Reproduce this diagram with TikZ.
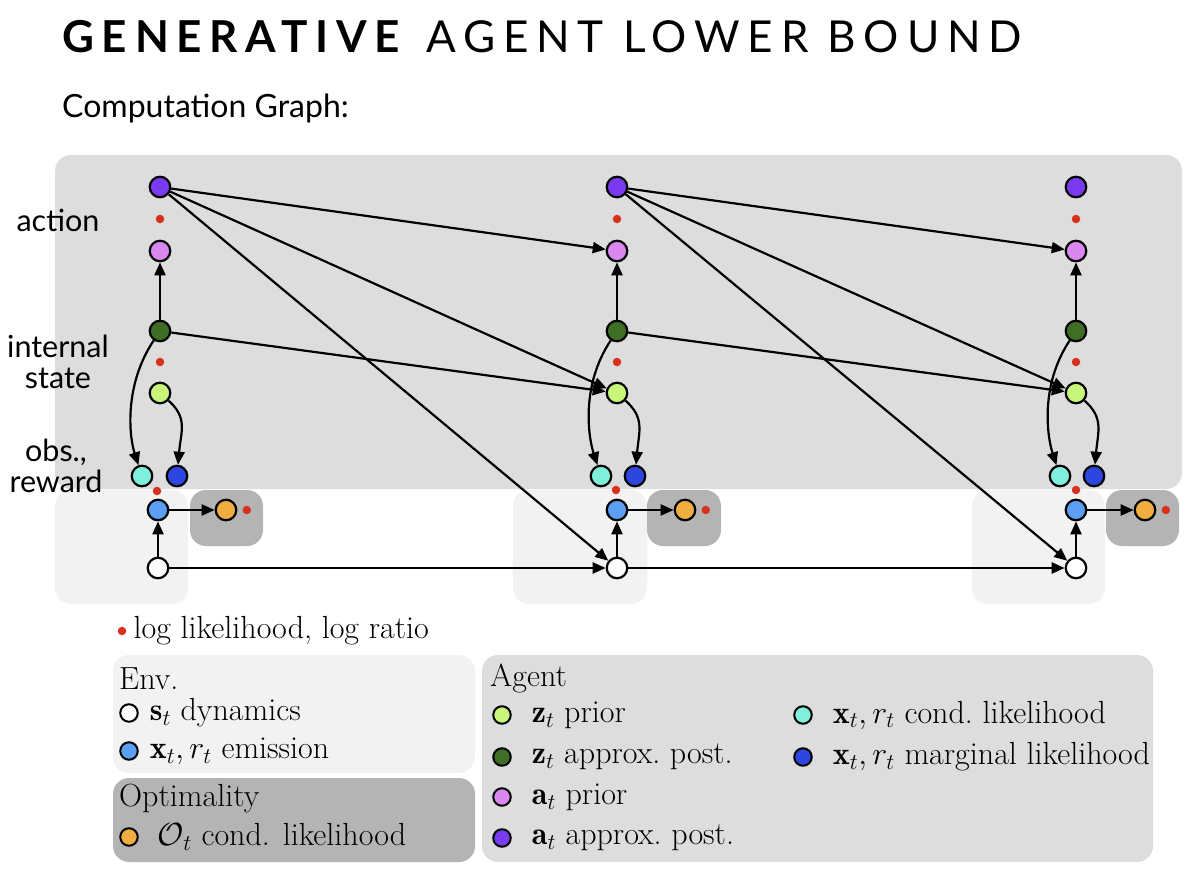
\RequirePackage{fix-cm}
\documentclass[tikz,border=0pt]{standalone}
\usepackage{amsmath,amssymb}
\usepackage{fontspec}
\newfontfamily\avenir{Lato}
\usepackage{xcolor}
\usepackage{tikz}
\usetikzlibrary{positioning,arrows.meta}

\definecolor{aPost}{RGB}{122,58,240}
\definecolor{aPrior}{RGB}{218,136,240}
\definecolor{zPost}{RGB}{63,110,37}
\definecolor{zPrior}{RGB}{200,246,122}
\definecolor{xCond}{RGB}{128,240,220}
\definecolor{xMarg}{RGB}{45,70,224}
\definecolor{emit}{RGB}{91,158,242}
\definecolor{optim}{RGB}{240,173,64}
\definecolor{llRed}{RGB}{216,48,30}
\definecolor{agentGray}{RGB}{221,221,221}
\definecolor{envGray}{RGB}{242,242,242}
\definecolor{optGray}{RGB}{180,180,180}

\begin{document}
\begin{tikzpicture}[
x=1pt, y=-1pt,
node distance=20pt,
var/.style={circle, draw=black, line width=2.2pt, minimum size=20.5pt, inner sep=0pt},
key/.style={var, line width=2pt, minimum size=17.5pt},
ll/.style={circle, fill=llRed, minimum size=8.5pt, inner sep=0pt},
arrow/.style={-{Triangle[length=13pt, width=11pt]}, line width=2.2pt},
panel/.style={rounded corners=16pt},
row/.style={font=\avenir\fontsize{30.5}{31}\selectfont, align=center, inner sep=0pt},
legend/.style={font=\fontsize{32}{34}\selectfont, inner sep=0pt}
]
\useasboundingbox (0,0) rectangle (1200,868);

% backgrounds
\fill[agentGray, panel] (55,155) rectangle (1182,489);
\fill[envGray, panel] (55,490) rectangle (188,604);
\fill[envGray, panel] (513,490) rectangle (647,604);
\fill[envGray, panel] (972,490) rectangle (1105,604);
\fill[optGray, panel] (190,490) rectangle (263,546);
\fill[optGray, panel] (647,490) rectangle (721,546);
\fill[optGray, panel] (1106,490) rectangle (1179,546);

% titles
\node[anchor=base west, inner sep=0pt, font=\avenir\fontsize{44}{48}\selectfont] (title) at (62,52) {\addfontfeature{LetterSpace=17.7}\textbf{GENERATIVE} AGENT LOWER BOUND};
\node[anchor=base west, inner sep=0pt, font=\avenir\fontsize{32}{34}\selectfont] (graph) at (62,117) {Computation Graph:};
\node[row] (action) at (58,220) {action};
\node[row] (internal) at (58,362) {internal\\state};
\node[row] (obs) at (56,466) {obs.,\\reward};

% column 1
\node[var, fill=aPost] (aq1) at (160,187) {};
\node[ll] (la1) at (160,219) {};
\node[var, fill=aPrior] (ap1) at (160,251) {};
\node[var, fill=zPost] (zq1) at (160,331) {};
\node[ll] (lz1) at (160,362) {};
\node[var, fill=zPrior] (zp1) at (160,393) {};
\node[var, fill=xCond] (xc1) at (142,476) {};
\node[var, fill=xMarg] (xm1) at (177,476) {};
\node[ll] (lx1) at (157,491) {};
\node[var, fill=emit] (em1) at (158,510) {};
\node[var, fill=optim] (op1) at (226,510) {};
\node[ll, right=5pt of op1] (lo1) {};
\node[var, fill=white] (s1) at (158,568) {};

% column 2
\node[var, fill=aPost] (aq2) at (617,187) {};
\node[ll] (la2) at (617,219) {};
\node[var, fill=aPrior] (ap2) at (617,251) {};
\node[var, fill=zPost] (zq2) at (617,331) {};
\node[ll] (lz2) at (617,362) {};
\node[var, fill=zPrior] (zp2) at (617,393) {};
\node[var, fill=xCond] (xc2) at (601,476) {};
\node[var, fill=xMarg] (xm2) at (635,476) {};
\node[ll] (lx2) at (616,490) {};
\node[var, fill=emit] (em2) at (617,510) {};
\node[var, fill=optim] (op2) at (685,510) {};
\node[ll, right=5pt of op2] (lo2) {};
\node[var, fill=white] (s2) at (617,568) {};

% column 3
\node[var, fill=aPost] (aq3) at (1076,187) {};
\node[ll] (la3) at (1076,219) {};
\node[var, fill=aPrior] (ap3) at (1076,251) {};
\node[var, fill=zPost] (zq3) at (1076,331) {};
\node[ll] (lz3) at (1076,362) {};
\node[var, fill=zPrior] (zp3) at (1076,393) {};
\node[var, fill=xCond] (xc3) at (1060,476) {};
\node[var, fill=xMarg] (xm3) at (1094,476) {};
\node[ll] (lx3) at (1076,490) {};
\node[var, fill=emit] (em3) at (1076,510) {};
\node[var, fill=optim] (op3) at (1145,510) {};
\node[ll, right=5pt of op3] (lo3) {};
\node[var, fill=white] (s3) at (1076,568) {};

% within a step
\draw[arrow] (zq1) -- (ap1);
\draw[arrow] (zq1) .. controls +(-36,54) and +(-13,-40) .. (xc1);
\draw[arrow] (zp1) .. controls +(28,25) and +(4,-45) .. (xm1);
\draw[arrow] (s1) -- (em1);
\draw[arrow] (em1) -- (op1);
\draw[arrow] (zq2) -- (ap2);
\draw[arrow] (zq2) .. controls +(-36,54) and +(-13,-40) .. (xc2);
\draw[arrow] (zp2) .. controls +(28,25) and +(4,-45) .. (xm2);
\draw[arrow] (s2) -- (em2);
\draw[arrow] (em2) -- (op2);
\draw[arrow] (zq3) -- (ap3);
\draw[arrow] (zq3) .. controls +(-36,54) and +(-13,-40) .. (xc3);
\draw[arrow] (zp3) .. controls +(28,25) and +(4,-45) .. (xm3);
\draw[arrow] (s3) -- (em3);
\draw[arrow] (em3) -- (op3);

% across steps
\draw[arrow] (aq1) -- (ap2);
\draw[arrow] (aq1) -- (zp2);
\draw[arrow] (aq1) -- (s2);
\draw[arrow] (zq1) -- (zp2);
\draw[arrow] (s1) -- (s2);
\draw[arrow] (aq2) -- (ap3);
\draw[arrow] (aq2) -- (zp3);
\draw[arrow] (aq2) -- (s3);
\draw[arrow] (zq2) -- (zp3);
\draw[arrow] (s2) -- (s3);

% legend
\node[ll] (lldot) at (122,631) {};
\node[legend, right=7pt of lldot] (lltext) {log likelihood, log ratio};

\fill[envGray, panel] (113,655) rectangle (475,773);
\fill[optGray, panel] (113,778) rectangle (475,862);
\fill[agentGray, panel] (482,655) rectangle (1153,862);

\node[legend, anchor=base west] (envT) at (119,689) {Env.};
\node[key, fill=white] (ks) at (129,713) {};
\node[legend, right=11pt of ks] (ksT) {$\mathbf{s}_t$ dynamics};
\node[key, fill=emit] (kem) at (129,751) {};
\node[legend, right=11pt of kem] (kemT) {$\mathbf{x}_t, r_t$ emission};

\node[legend, anchor=base west] (optT) at (119,806) {Optimality};
\node[key, fill=optim] (kop) at (129,837) {};
\node[legend, right=19pt of kop] (kopT) {$\mathcal{O}_t$ cond. likelihood};

\node[legend, anchor=base west] (agentT) at (490,686) {Agent};
\node[key, fill=zPrior] (kzp) at (502,715) {};
\node[legend, right=of kzp] (kzpT) {$\mathbf{z}_t$ prior};
\node[key, fill=zPost] (kzq) at (502,757) {};
\node[legend, right=of kzq] (kzqT) {$\mathbf{z}_t$ approx.\ post.};
\node[key, fill=aPrior] (kap) at (502,797) {};
\node[legend, right=of kap] (kapT) {$\mathbf{a}_t$ prior};
\node[key, fill=aPost] (kaq) at (502,838) {};
\node[legend, right=of kaq] (kaqT) {$\mathbf{a}_t$ approx.\ post.};
\node[key, fill=xCond] (kxc) at (803,715) {};
\node[legend, right=of kxc] (kxcT) {$\mathbf{x}_t, r_t$ cond.\ likelihood};
\node[key, fill=xMarg] (kxm) at (803,757) {};
\node[legend, right=of kxm] (kxmT) {$\mathbf{x}_t, r_t$ marginal likelihood};
\end{tikzpicture}
\end{document}
